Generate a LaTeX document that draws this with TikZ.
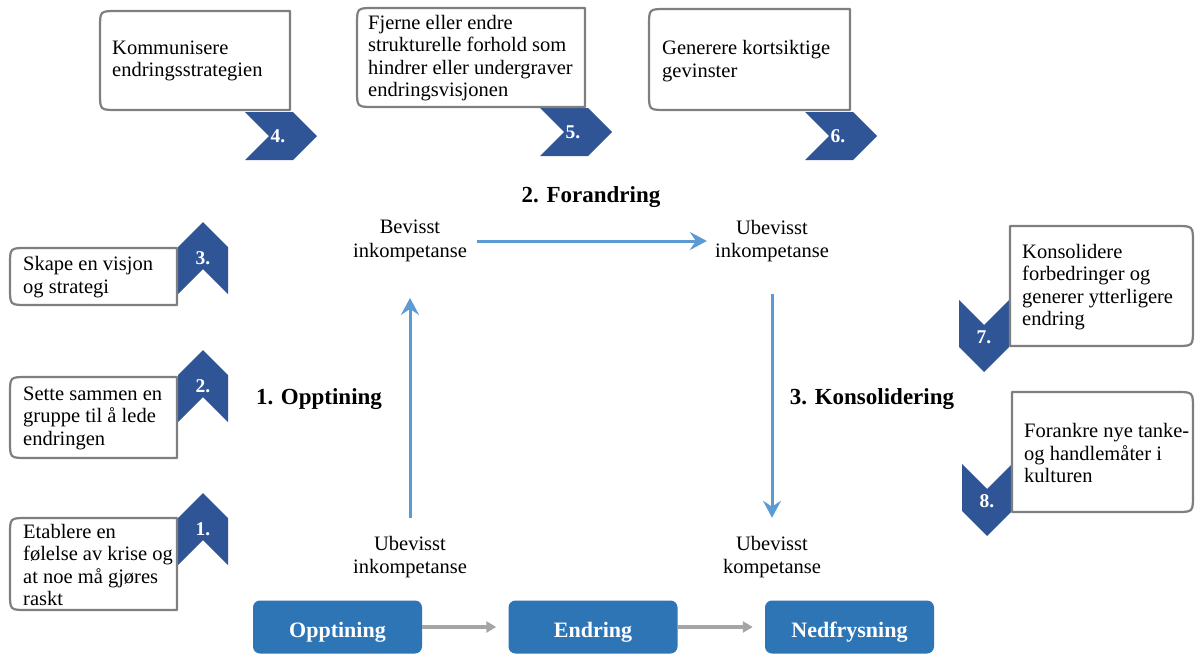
\documentclass[tikz,border=0pt]{standalone}
\usepackage{fontspec}
\setmainfont{Liberation Serif}
\usetikzlibrary{arrows.meta}

\definecolor{chev}{HTML}{2F5597}
\definecolor{stage}{HTML}{2E75B6}
\definecolor{flow}{HTML}{5B9BD5}
\definecolor{edgegray}{HTML}{7F7F7F}
\definecolor{linkgray}{HTML}{A5A5A5}

% callout with the two left corners rounded: L T R B
\newcommand{\boxroundleft}[4]{%
  \draw[callout] (#3,#2) -- (#3,#4) -- ({#1+17},#4) .. controls (#1,#4) .. (#1,{#4-17})
    -- (#1,{#2+17}) .. controls (#1,#2) .. ({#1+17},#2) -- cycle;}
% callout with the two right corners rounded: L T R B
\newcommand{\boxroundright}[4]{%
  \draw[callout] (#1,#2) -- ({#3-17},#2) .. controls (#3,#2) .. (#3,{#2+17})
    -- (#3,{#4-17}) .. controls (#3,#4) .. ({#3-17},#4) -- (#1,#4) -- cycle;}
% chevron pointing right: left x, top y, name, number
\newcommand{\chevright}[4]{%
  \fill[chev] (#1,#2) -- ({#1+48},#2) -- ({#1+72},{#2+24}) -- ({#1+48},{#2+48})
    -- (#1,{#2+48}) -- ({#1+24},{#2+24}) -- cycle;
  \node[chevnum] (#3) at ({#1+33},{#2+24}) {#4};}
% chevron pointing up: centre x, apex y, name, number
\newcommand{\chevup}[4]{%
  \fill[chev] (#1,#2) -- ({#1+25},{#2+25}) -- ({#1+25},{#2+72}) -- (#1,{#2+47})
    -- ({#1-25},{#2+72}) -- ({#1-25},{#2+25}) -- cycle;
  \node[chevnum] (#3) at (#1,{#2+36}) {#4};}
% chevron pointing down: centre x, top y, name, number
\newcommand{\chevdown}[4]{%
  \fill[chev] ({#1-25},#2) -- (#1,{#2+25}) -- ({#1+25},#2) -- ({#1+25},{#2+47})
    -- (#1,{#2+72}) -- ({#1-25},{#2+47}) -- cycle;
  \node[chevnum] (#3) at (#1,{#2+37}) {#4};}

\tikzset{
  callout/.style={draw=edgegray, line width=2.2pt, fill=white, line join=round},
  chevnum/.style={text=white, font=\fontsize{19.5}{21}\selectfont\bfseries, inner sep=0pt},
  steptext/.style={anchor=west, align=left, inner sep=0pt, font=\fontsize{20.5}{22.5}\selectfont},
  levellabel/.style={align=center, inner sep=0pt, font=\fontsize{20.5}{23.5}\selectfont},
  phaselabel/.style={inner sep=0pt, font=\fontsize{23}{26}\selectfont\bfseries},
  stagebox/.style={fill=stage, rounded corners=7pt, minimum width=169pt, minimum height=53pt,
    inner sep=0pt, text height=22pt, text depth=2pt, text=white,
    font=\fontsize{22}{24}\selectfont\bfseries},
  flowarrow/.style={draw=flow, line width=3pt, -{Stealth[length=17pt,width=18pt,inset=6pt]}},
  linkarrow/.style={draw=linkgray, line width=3.5pt, -{Triangle[length=10pt,width=11pt]}},
}

\begin{document}
\begin{tikzpicture}[x=1pt, y=-1pt]
\useasboundingbox (0,0) rectangle (1195,654);

% steps 4-6 along the top
\chevright{245}{112}{c4}{4.}
\boxroundleft{100}{11}{290}{110}
\node[steptext] (s4) at (112,61) {Kommunisere\\endringsstrategien};

\chevright{540}{108}{c5}{5.}
\boxroundleft{357}{8}{585}{107}
\node[steptext] (s5) at (368,58) {Fjerne eller endre\\strukturelle forhold som\\hindrer eller undergraver\\endringsvisjonen};

\chevright{805}{112}{c6}{6.}
\boxroundleft{649}{9}{850}{110}
\node[steptext] (s6) at (662,61) {Generere kortsiktige\\gevinster};

% steps 1-3 on the left
\chevup{203}{222}{c3}{3.}
\boxroundleft{10}{248}{177}{305}
\node[steptext] (s3) at (23,277) {Skape en visjon\\og strategi};

\chevup{203}{350}{c2}{2.}
\boxroundleft{10}{377}{177}{458}
\node[steptext] (s2) at (23,418) {Sette sammen en\\gruppe til å lede\\endringen};

\chevup{203}{493}{c1}{1.}
\boxroundleft{10}{518}{177}{610}
\node[steptext] (s1) at (23,565) {Etablere en\\følelse av krise og\\at noe må gjøres\\raskt};

% steps 7-8 on the right
\chevdown{984}{300}{c7}{7.}
\boxroundright{1010}{226}{1193}{346}
\node[steptext] (s7) at (1022,287) {Konsolidere\\forbedringer og\\generer ytterligere\\endring};

\chevdown{987}{464}{c8}{8.}
\boxroundright{1012}{392}{1193}{512}
\node[steptext] (s8) at (1024,453) {Forankre nye tanke-\\og handlemåter i\\kulturen};

% competence cycle
\node[levellabel] (tl) at (410,241) {Bevisst\\inkompetanse};
\node[levellabel] (tr) at (772,241) {Ubevisst\\inkompetanse};
\node[levellabel] (bl) at (410,557) {Ubevisst\\inkompetanse};
\node[levellabel] (br) at (772,557) {Ubevisst\\kompetanse};

\node[phaselabel] (p1) at (319,399) {1. Opptining};
\node[phaselabel] (p2) at (591,197) {2. Forandring};
\node[phaselabel] (p3) at (872,399) {3. Konsolidering};

\draw[flowarrow] ([yshift=18pt]bl.north) -- ([yshift=-36pt]tl.south);
\draw[flowarrow] ([xshift=10pt]tl.east) -- ([xshift=-8pt]tr.west);
\draw[flowarrow] ([yshift=-32pt]tr.south) -- ([yshift=18pt]br.north);

% Lewin's three stages
\node[stagebox] (u1) at (337.5,627) {Opptining};
\node[stagebox] (u2) at (593,627) {Endring};
\node[stagebox] (u3) at (849.5,627) {Nedfrysning};

\draw[linkarrow] (u1.east) -- ([xshift=-12pt]u2.west);
\draw[linkarrow] (u2.east) -- ([xshift=-12pt]u3.west);
\end{tikzpicture}
\end{document}
